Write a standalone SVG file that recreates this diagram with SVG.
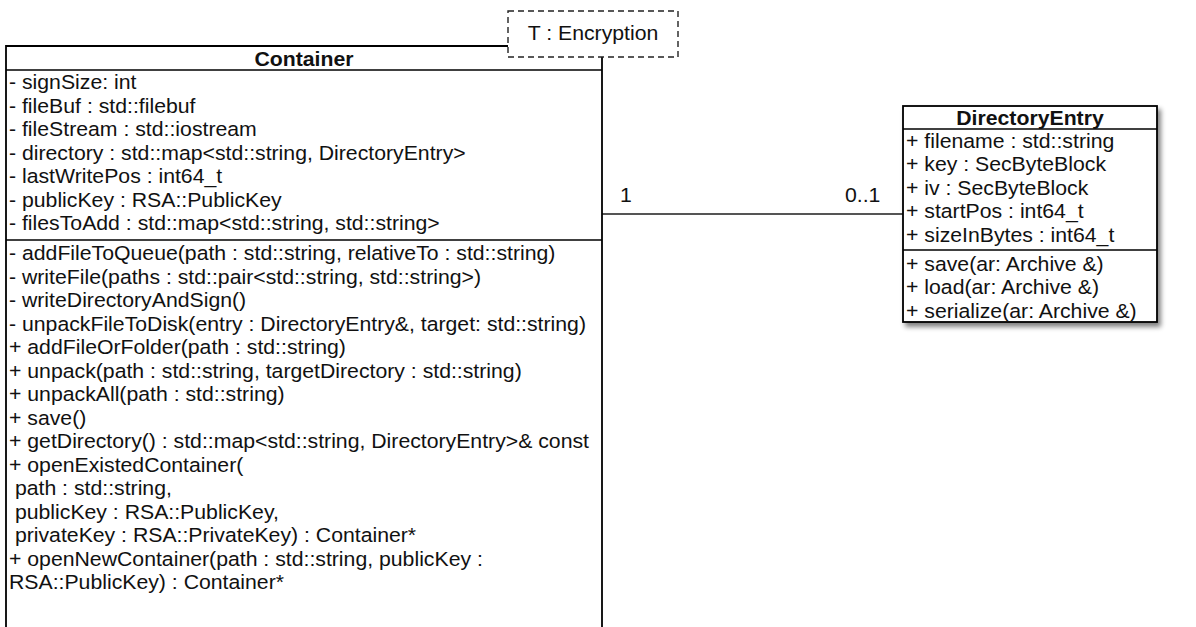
<svg xmlns="http://www.w3.org/2000/svg" width="1196" height="627" viewBox="0 0 1196 627">
  <style>
    .box { fill: #ffffff; stroke: #000000; stroke-width: 1.8; }
    .sep { stroke: #000000; stroke-width: 1.5; }
    .t { font-family: "Liberation Sans", Arial, sans-serif; font-size: 19.5px; fill: #111111; }
    .title { font-weight: bold; text-anchor: middle; }
    .mid { text-anchor: middle; }
    .edge { stroke: #555555; stroke-width: 2; fill: none; }
    .tmpl { fill: #ffffff; stroke: #222222; stroke-width: 1.4; stroke-dasharray: 6 4; }
  </style>
  <defs>
    <filter id="shadow" x="-10%" y="-10%" width="130%" height="130%">
      <feGaussianBlur in="SourceAlpha" stdDeviation="2.5"/>
      <feOffset dx="3" dy="4"/>
      <feComponentTransfer><feFuncA type="linear" slope="0.5"/></feComponentTransfer>
      <feMerge><feMergeNode/><feMergeNode in="SourceGraphic"/></feMerge>
    </filter>
  </defs>

  <rect width="1196" height="627" fill="#ffffff"/>

  <!-- association between the two classes -->
  <g id="connectors">
    <line class="edge" x1="602" y1="214" x2="903" y2="214"/>
    <g transform="translate(620 0) scale(1.09 1)">
      <text class="t" x="0" y="202">1</text>
    </g>
    <g transform="translate(845 0) scale(1.09 1)">
      <text class="t" x="0" y="202">0..1</text>
    </g>
  </g>

  <!-- Container class (template parameter T : Encryption) -->
  <g id="container">
    <path class="box" d="M6,640 V46 H602 V640"/>
    <line class="sep" x1="6" y1="70" x2="602" y2="70"/>
    <line class="sep" x1="6" y1="240" x2="602" y2="240"/>
    <g transform="translate(304 0) scale(1.09 1)">
      <text class="t title" x="0" y="66">Container</text>
    </g>
    <g transform="translate(9 0) scale(1.09 1)">
      <text class="t" x="0" y="89.5">- signSize: int</text>
      <text class="t" x="0" y="113">- fileBuf : std::filebuf</text>
      <text class="t" x="0" y="136.5">- fileStream : std::iostream</text>
      <text class="t" x="0" y="160">- directory : std::map&lt;std::string, DirectoryEntry&gt;</text>
      <text class="t" x="0" y="183.5">- lastWritePos : int64_t</text>
      <text class="t" x="0" y="207">- publicKey : RSA::PublicKey</text>
      <text class="t" x="0" y="230.5">- filesToAdd : std::map&lt;std::string, std::string&gt;</text>
      <text class="t" x="0" y="260.5">- addFileToQueue(path : std::string, relativeTo : std::string)</text>
      <text class="t" x="0" y="284">- writeFile(paths : std::pair&lt;std::string, std::string&gt;)</text>
      <text class="t" x="0" y="307.5">- writeDirectoryAndSign()</text>
      <text class="t" x="0" y="331">- unpackFileToDisk(entry : DirectoryEntry&amp;, target: std::string)</text>
      <text class="t" x="0" y="354.5">+ addFileOrFolder(path : std::string)</text>
      <text class="t" x="0" y="378">+ unpack(path : std::string, targetDirectory : std::string)</text>
      <text class="t" x="0" y="401.5">+ unpackAll(path : std::string)</text>
      <text class="t" x="0" y="425">+ save()</text>
      <text class="t" x="0" y="448.5">+ getDirectory() : std::map&lt;std::string, DirectoryEntry&gt;&amp; const</text>
      <text class="t" x="0" y="472">+ openExistedContainer(</text>
      <text class="t" x="0" y="495.5" xml:space="preserve"> path : std::string,</text>
      <text class="t" x="0" y="519" xml:space="preserve"> publicKey : RSA::PublicKey,</text>
      <text class="t" x="0" y="542.5" xml:space="preserve"> privateKey : RSA::PrivateKey) : Container*</text>
      <text class="t" x="0" y="566">+ openNewContainer(path : std::string, publicKey :</text>
      <text class="t" x="0" y="589.5">RSA::PublicKey) : Container*</text>
    </g>
  </g>

  <g id="template-param">
    <rect class="tmpl" x="508" y="11" width="170" height="46"/>
    <g transform="translate(593 0) scale(1.09 1)">
      <text class="t mid" x="0" y="40">T : Encryption</text>
    </g>
  </g>

  <!-- DirectoryEntry class -->
  <g id="directory-entry">
    <rect class="box" x="903" y="106" width="254" height="216" filter="url(#shadow)"/>
    <line class="sep" x1="903" y1="129" x2="1157" y2="129"/>
    <line class="sep" x1="903" y1="250" x2="1157" y2="250"/>
    <g transform="translate(1030 0) scale(1.09 1)">
      <text class="t title" x="0" y="125">DirectoryEntry</text>
    </g>
    <g transform="translate(906 0) scale(1.09 1)">
      <text class="t" x="0" y="148">+ filename : std::string</text>
      <text class="t" x="0" y="171.5">+ key : SecByteBlock</text>
      <text class="t" x="0" y="195">+ iv : SecByteBlock</text>
      <text class="t" x="0" y="218.5">+ startPos : int64_t</text>
      <text class="t" x="0" y="242">+ sizeInBytes : int64_t</text>
      <text class="t" x="0" y="271">+ save(ar: Archive &amp;)</text>
      <text class="t" x="0" y="294.5">+ load(ar: Archive &amp;)</text>
      <text class="t" x="0" y="318">+ serialize(ar: Archive &amp;)</text>
    </g>
  </g>
</svg>
